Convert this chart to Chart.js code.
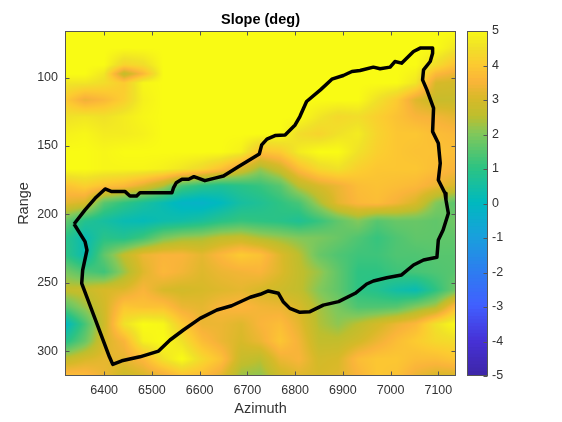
<!DOCTYPE html>
<html lang="en">
<head>
  <meta charset="UTF-8" />
  <title>Slope (deg)</title>
  <script src="https://cdn.jsdelivr.net/npm/chart.js"></script>
  <style>
    body { margin:0; background:#fff; }
    .wrap { position:relative; width:562px; height:422px; }
    canvas { position:absolute; left:0; top:0; }
  </style>
</head>
<body>
  <div class="wrap">
    <canvas id="slopeChart" width="562" height="422"></canvas>
    <canvas id="colorbar" width="562" height="422"></canvas>
  </div>

  <script>
    const xTicks = [6400,6500,6600,6700,6800,6900,7000,7100];
    const yTicks = [100,150,200,250,300];
    const cTicks = [5,4,3,2,1,0,-1,-2,-3,-4,-5];

    // grid nodes of the slope surface
    const azimuth = [6318,6360,6400,6442,6482,6524,6563,6605,6645,6687,6727,6769,6808,6850,6890,6932,6972,7013,7053,7095,7137];
    const range = [66,78.3,90.7,97.3,103.9,116.3,128.7,141.2,154.3,166.7,179.2,191.6,204.8,217.2,229.6,242,255.2,267.6,280.1,292.5,305.6,318];
    const slope = [
      [5,5,5,5,5,5,5,5,5,5,5,5,5,5,5,5,5,5,5,5,5],
      [5,5,5,5,5,5,5,5,5,5,5,5,5,5,5,5,5,5,5,5,4.6],
      [5,5,5,4.2,4.4,5,5,5,5,5,5,5,5,5,5,5,5,5,5,4.4,3.8],
      [5,5,4.6,2.6,3.6,5,5,5,5,5,5,5,5,5,5,5,5,5,4.8,3.6,3.3],
      [4.6,4.6,4.4,4,4.9,5,5,5,5,5,5,5,5,5,5,5,5,5,4.6,3,2.9],
      [4,3.3,3.6,4.1,4.8,5,5,5,5,5,5,5,5,5,5,5,4.5,4,3.1,2.7,2.7],
      [4.5,4.6,4.5,4.7,4.9,5,5,5,5,5,5,5,5,4.6,4.3,4.4,4.1,3.8,3.5,3.4,3.2],
      [4.8,4.9,4.7,4.7,4.8,5,5,5,5,5,5,5,4.4,4.2,4.5,4.7,4.2,3.9,3.9,3.7,3.6],
      [5,5,4.9,5,5,5,5,5,5,4.8,3.8,4,4.7,5,5,4.5,4.1,3.9,3.8,3.8,3.7],
      [5,5,4.9,4.9,4.9,4.8,4.6,4.3,3.8,3,2.2,2.8,3.7,4.3,4.5,4.1,3.9,3.9,3.9,3.7,3.5],
      [3.8,4.1,3.8,3.6,3.1,2.4,1.3,0.9,0.7,0.9,1.1,1.5,2.5,3,3.3,3.7,3.8,3.7,3.6,3.3,3],
      [3.2,3,1.5,1,0.6,0.2,-0.2,-0.3,0,0.5,0.7,1,1.3,2.3,3.2,3.6,3.7,3.4,3,2,1.5],
      [1.7,0.8,0.5,0.2,0.1,0.3,0.4,0.6,0.9,1.1,1,0.9,0.7,1.1,1.6,2,1.5,1.7,1.7,1.6,1.8],
      [0.9,0.2,0.9,0.8,1.2,1.9,2.2,2.3,2.6,2.7,2.4,2.2,2,1.9,1.7,1.4,1.1,1.4,1.6,1.6,1.6],
      [1,0.2,1.6,2.6,3.3,3.5,3.5,3.2,3.6,4,3.8,3.1,2.5,1.7,1.4,1.2,1.2,1.4,1.4,1.5,1.5],
      [1.9,1.4,1.2,2.2,3.1,3.6,3.4,3.1,3.3,3.4,3.5,3.1,2.6,2.2,1.6,1,1,1.2,1.3,1.4,1.5],
      [2.6,2.7,3,3.1,3.5,3,2.9,3,3.1,3.2,3,2.8,2.6,2,1.6,1,0.8,0.4,0.2,1,1.8],
      [1.5,2.2,2.9,3.9,3.8,3.8,3.3,3.2,3.5,3.6,3.4,3.3,3,2.3,1.9,1.4,1.4,1.5,2,2.4,3.8],
      [-0.1,1.3,2.8,4.5,5,4.9,4,3.3,3.3,3.1,3.5,3.7,3.2,2.4,2.1,2.5,2.9,3.3,3.6,4.5,5],
      [0.8,1.7,3,3.5,4.8,5,4.5,3.7,3.3,3,3.3,3.9,3.4,2.6,2.6,2.9,3.3,3.7,4,4.3,4.4],
      [2.6,3,3.2,3.2,3.6,4.5,5,4.3,3.8,2.7,2.5,3.3,3.5,2.9,3,3.7,3.9,3.9,3.7,3.7,3.9],
      [3.8,3.7,3.3,2.8,3,3.3,3.8,3.7,3.2,2.2,2.1,2.8,3.1,3,3.1,3.5,3.9,3.8,3.3,3,3]
    ];

    // black region boundary
    const outlineAz = [6337,6360,6381,6402,6416,6444,6454,6468,6475,6542,6545,6551,6563,6577,6588,6611,6632,6650,6681,6725,6730,6741,6758,6779,6800,6810,6824,6853,6877,6901,6919,6936,6964,6978,6999,7009,7023,7048,7062,7088,7088,7083,7069,7067,7076,7090,7088,7100,7104,7100,7114,7116,7121,7110,7100,7097,7069,7048,7023,6992,6964,6950,6926,6891,6859,6831,6810,6789,6775,6765,6744,6727,6706,6667,6636,6601,6566,6538,6514,6475,6437,6418,6411,6353,6355,6364,6360,6337];
    const outlineRg = [207,196.7,188.2,181.4,183.3,183.3,186.5,186.5,184.1,184.1,180.8,176.8,174.3,174.3,172.4,175.3,173.5,171.9,165.1,155.8,149.2,145,142.4,141.9,134.6,128.5,117.5,109,101.2,98.5,95.6,94.9,92.4,93.6,92.4,88.3,89.5,81,78.5,78.5,82.2,88.3,94.4,101.7,109,122.4,139.5,148,162.6,174.8,184.5,189.4,199.1,211.3,218.6,231.3,233.3,236.9,244.2,246.2,248.6,250.8,257.6,263.7,266.2,271,271.5,268.6,263.7,257.6,255.9,258.3,260.5,266.7,269.8,275.9,284.4,291.7,299.8,304,306.9,309.5,304,250.3,240.6,226,219.9,207];

    // colormap
    const cmapLevels = [-5,-4,-3,-2,-1,0,1,2,2.5,3,3.5,4,4.5,5];
    const cmapColors = [[62,38,168],[70,50,215],[65,95,255],[45,125,240],[25,160,220],[0,185,190],[45,195,130],[130,200,90],[190,190,45],[215,185,40],[250,180,58],[252,203,48],[240,225,40],[249,251,20]];

    const FONT = "'Liberation Sans', Arial, sans-serif";
    const TEXT = '#333';
    const FRAME = '#555';

    function colorFor(v) {
      if (v <= cmapLevels[0]) return cmapColors[0];
      for (let i = 1; i < cmapLevels.length; i++) {
        if (v <= cmapLevels[i]) {
          const t = (v - cmapLevels[i-1]) / (cmapLevels[i] - cmapLevels[i-1]);
          const a = cmapColors[i-1], b = cmapColors[i];
          return [a[0]+(b[0]-a[0])*t, a[1]+(b[1]-a[1])*t, a[2]+(b[2]-a[2])*t];
        }
      }
      return cmapColors[cmapColors.length-1];
    }

    function findCell(arr, v) {
      let i = 0;
      while (i < arr.length-2 && v > arr[i+1]) i++;
      return i;
    }

    // shades the surface between its grid nodes, like shading interp
    const surfacePlugin = {
      id: 'surface',
      beforeDatasetsDraw(chart) {
        const { ctx, chartArea: a, scales } = chart;
        const nodes = chart.data.datasets[0].data;
        const nx = azimuth.length;
        const w = Math.round(a.right - a.left), h = Math.round(a.bottom - a.top);
        const off = document.createElement('canvas');
        off.width = w; off.height = h;
        const octx = off.getContext('2d');
        const img = octx.createImageData(w, h);
        for (let py = 0; py < h; py++) {
          const rv = scales.y.getValueForPixel(a.top + py + 0.5);
          const r = findCell(range, rv);
          const tr = Math.min(1, Math.max(0, (rv - range[r]) / (range[r+1] - range[r])));
          for (let px = 0; px < w; px++) {
            const av = scales.x.getValueForPixel(a.left + px + 0.5);
            const c = findCell(azimuth, av);
            const tc = Math.min(1, Math.max(0, (av - azimuth[c]) / (azimuth[c+1] - azimuth[c])));
            const v00 = nodes[r*nx+c].v, v01 = nodes[r*nx+c+1].v;
            const v10 = nodes[(r+1)*nx+c].v, v11 = nodes[(r+1)*nx+c+1].v;
            const v = (v00*(1-tc)+v01*tc)*(1-tr) + (v10*(1-tc)+v11*tc)*tr;
            const col = colorFor(v);
            const k = (py*w+px)*4;
            img.data[k] = col[0]; img.data[k+1] = col[1]; img.data[k+2] = col[2]; img.data[k+3] = 255;
          }
        }
        octx.putImageData(img, 0, 0);
        ctx.drawImage(off, a.left, a.top);
      }
    };

    // box with ticks pointing inward on all sides
    function drawBox(chart, vertical, horizontal, tickLen, sides) {
      const { ctx, chartArea: a } = chart;
      ctx.save();
      ctx.strokeStyle = FRAME;
      ctx.lineWidth = 1;
      const L = Math.round(a.left)+0.5, R = Math.round(a.right)-0.5, T = Math.round(a.top)+0.5, B = Math.round(a.bottom)-0.5;
      ctx.strokeRect(L, T, R-L, B-T);
      ctx.beginPath();
      if (horizontal) horizontal.ticks.forEach(t => {
        const p = Math.round(horizontal.getPixelForValue(t.value))+0.5;
        ctx.moveTo(p, T); ctx.lineTo(p, T+tickLen);
        ctx.moveTo(p, B); ctx.lineTo(p, B-tickLen);
      });
      vertical.ticks.forEach(t => {
        const p = Math.round(vertical.getPixelForValue(t.value))+0.5;
        if (sides.left) { ctx.moveTo(L, p); ctx.lineTo(L+tickLen, p); }
        ctx.moveTo(R, p); ctx.lineTo(R-tickLen, p);
      });
      ctx.stroke();
      ctx.restore();
    }

    const boxPlugin = {
      id: 'box',
      afterDatasetsDraw(chart) { drawBox(chart, chart.scales.y, chart.scales.x, 4, { left:true }); }
    };

    const surfaceNodes = [];
    range.forEach((rg, r) => azimuth.forEach((az, c) => surfaceNodes.push({ x:az, y:rg, v:slope[r][c] })));

    const noGrid = { display: false, drawTicks: false, tickLength: 0 };

    new Chart(document.getElementById('slopeChart'), {
      type: 'scatter',
      data: {
        datasets: [
          { data: surfaceNodes, pointRadius: 0, showLine: false },
          {
            data: outlineAz.map((az, i) => ({ x:az, y:outlineRg[i] })),
            showLine: true, pointRadius: 0, borderColor: '#000', borderWidth: 3.5,
            borderJoinStyle: 'round', tension: 0
          }
        ]
      },
      options: {
        responsive: false, animation: false, events: [],
        layout: { padding: { right: 106 } },
        plugins: {
          legend: { display: false }, tooltip: { enabled: false },
          title: {
            display: true, text: 'Slope (deg)', fullSize: false, color: '#000',
            font: { family: FONT, size: 14.5, weight: 'bold', lineHeight: 1.2 },
            padding: { top: 11.5, bottom: 2.1 }
          }
        },
        scales: {
          x: {
            type: 'linear', min: 6318, max: 7137,
            afterBuildTicks: s => { s.ticks = xTicks.map(v => ({ value:v })); },
            afterFit: s => { s.height = 46; },
            grid: noGrid, border: { display: false },
            ticks: { color: TEXT, font: { family: FONT, size: 12.5 }, padding: 7, maxRotation: 0, autoSkip: false, callback: v => '' + v },
            title: { display: true, text: 'Azimuth', color: TEXT, font: { family: FONT, size: 14.5 }, padding: { top: 1 } }
          },
          y: {
            type: 'linear', reverse: true, min: 66, max: 318,
            afterBuildTicks: s => { s.ticks = yTicks.map(v => ({ value:v })); },
            afterFit: s => { s.width = 65; },
            grid: noGrid, border: { display: false },
            ticks: { color: TEXT, font: { family: FONT, size: 12.5 }, padding: 7, autoSkip: false, callback: v => '' + v },
            title: { display: true, text: 'Range', color: TEXT, font: { family: FONT, size: 14.5 }, padding: { top: 15 } }
          }
        }
      },
      plugins: [surfacePlugin, boxPlugin]
    });

    // colorbar as thin stacked floating bars
    const barLevels = [];
    for (let i = 0; i < 100; i++) barLevels.push(-5 + i/10);

    new Chart(document.getElementById('colorbar'), {
      type: 'bar',
      data: {
        labels: ['c'],
        datasets: barLevels.map(lo => {
          const c = colorFor(lo + 0.05);
          return {
            data: [[lo, Math.min(5, lo + 0.13)]], grouped: false, barPercentage: 1, categoryPercentage: 1,
            backgroundColor: 'rgb(' + c.map(Math.round).join(',') + ')', borderWidth: 0
          };
        })
      },
      options: {
        responsive: false, animation: false, events: [],
        layout: { padding: { left: 467, top: 31 } },
        plugins: { legend: { display: false }, tooltip: { enabled: false } },
        scales: {
          x: { display: true, afterFit: s => { s.height = 46; }, grid: noGrid, border: { display: false }, ticks: { display: false } },
          y: {
            position: 'right', min: -5, max: 5,
            afterBuildTicks: s => { s.ticks = cTicks.map(v => ({ value:v })); },
            afterFit: s => { s.width = 74; },
            grid: noGrid, border: { display: false },
            ticks: { color: TEXT, font: { family: FONT, size: 12.5 }, padding: 4, autoSkip: false, callback: v => '' + v }
          }
        }
      },
      plugins: [{
        id: 'cbox',
        afterDatasetsDraw(chart) { drawBox(chart, chart.scales.y, null, 4, { left:false }); }
      }]
    });
  </script>
</body>
</html>
